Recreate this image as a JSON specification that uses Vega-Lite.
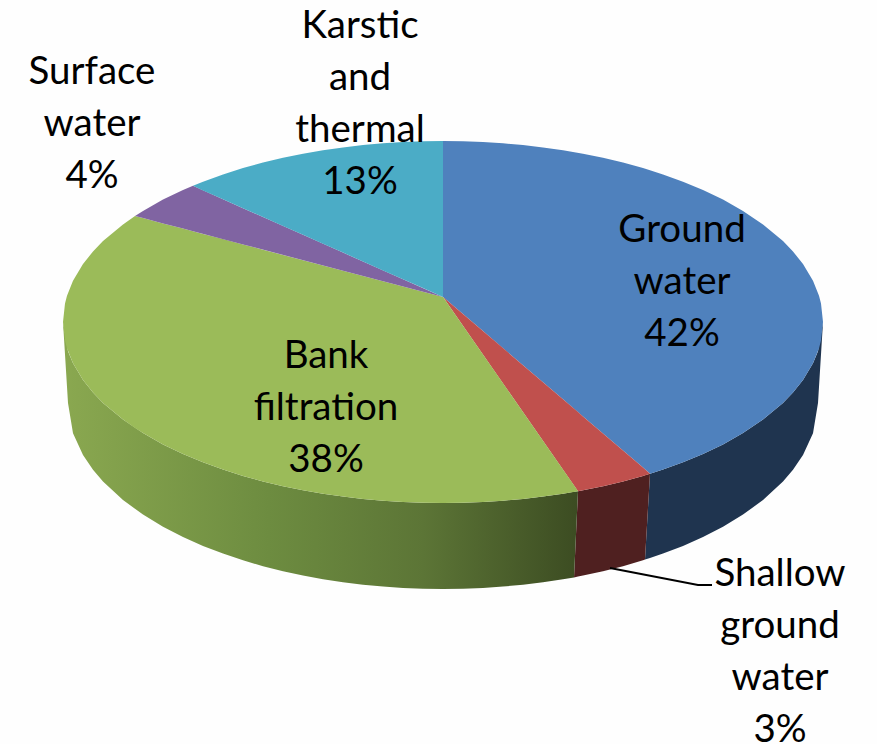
{"$schema":"https://vega.github.io/schema/vega-lite/v6.json","width":877,"height":744,"padding":0,"autosize":{"type":"none"},"background":"#fefefe","view":{"stroke":null},
"datasets":{"pie":[
{"s":"Ground water side","f":"side","x":645,"y":559.6,"y2":559.6},{"s":"Ground water side","f":"side","x":650,"y":473.8,"y2":558.1},{"s":"Ground water side","f":"side","x":663,"y":469.6,"y2":553.6},{"s":"Ground water side","f":"side","x":683,"y":462.3,"y2":545.9},{"s":"Ground water side","f":"side","x":703,"y":454,"y2":537},{"s":"Ground water side","f":"side","x":723,"y":444.4,"y2":526.7},{"s":"Ground water side","f":"side","x":743,"y":432.9,"y2":514.6},{"s":"Ground water side","f":"side","x":763,"y":419.6,"y2":500},{"s":"Ground water side","f":"side","x":783,"y":402.9,"y2":481.5},{"s":"Ground water side","f":"side","x":793,"y":392.5,"y2":469.8},{"s":"Ground water side","f":"side","x":803,"y":380,"y2":455.1},{"s":"Ground water side","f":"side","x":813,"y":363.3,"y2":433.3},{"s":"Ground water side","f":"side","x":818,"y":351.3,"y2":403},{"s":"Ground water side","f":"side","x":823,"y":322,"y2":322},
{"s":"Shallow side","f":"side","x":574,"y":577.5,"y2":577.5},{"s":"Shallow side","f":"side","x":578,"y":491.2,"y2":576.5},{"s":"Shallow side","f":"side","x":583,"y":490.3,"y2":575.6},{"s":"Shallow side","f":"side","x":603,"y":486.2,"y2":571.2},{"s":"Shallow side","f":"side","x":623,"y":481.4,"y2":566.2},{"s":"Shallow side","f":"side","x":643,"y":475.9,"y2":560.3},{"s":"Shallow side","f":"side","x":645,"y":475.3,"y2":559.6},{"s":"Shallow side","f":"side","x":650,"y":473.8,"y2":473.8},
{"s":"Bank side","f":"bank","x":63,"y":322,"y2":322},{"s":"Bank side","f":"bank","x":68,"y":351.3,"y2":403},{"s":"Bank side","f":"bank","x":73,"y":363.3,"y2":433.3},{"s":"Bank side","f":"bank","x":83,"y":380,"y2":455.1},{"s":"Bank side","f":"bank","x":93,"y":392.5,"y2":469.8},{"s":"Bank side","f":"bank","x":103,"y":402.9,"y2":481.5},{"s":"Bank side","f":"bank","x":123,"y":419.6,"y2":500},{"s":"Bank side","f":"bank","x":143,"y":432.9,"y2":514.6},{"s":"Bank side","f":"bank","x":163,"y":444.4,"y2":526.7},{"s":"Bank side","f":"bank","x":183,"y":454,"y2":537},{"s":"Bank side","f":"bank","x":203,"y":462.3,"y2":545.9},{"s":"Bank side","f":"bank","x":223,"y":469.6,"y2":553.6},{"s":"Bank side","f":"bank","x":243,"y":475.9,"y2":560.3},{"s":"Bank side","f":"bank","x":263,"y":481.4,"y2":566.2},{"s":"Bank side","f":"bank","x":283,"y":486.2,"y2":571.2},{"s":"Bank side","f":"bank","x":303,"y":490.3,"y2":575.6},{"s":"Bank side","f":"bank","x":323,"y":493.7,"y2":579.2},{"s":"Bank side","f":"bank","x":343,"y":496.6,"y2":582.3},{"s":"Bank side","f":"bank","x":363,"y":498.9,"y2":584.7},{"s":"Bank side","f":"bank","x":383,"y":500.7,"y2":586.6},{"s":"Bank side","f":"bank","x":403,"y":502,"y2":587.9},{"s":"Bank side","f":"bank","x":423,"y":502.7,"y2":588.7},{"s":"Bank side","f":"bank","x":443,"y":503,"y2":589},{"s":"Bank side","f":"bank","x":463,"y":502.7,"y2":588.7},{"s":"Bank side","f":"bank","x":483,"y":502,"y2":587.9},{"s":"Bank side","f":"bank","x":503,"y":500.7,"y2":586.6},{"s":"Bank side","f":"bank","x":523,"y":498.9,"y2":584.7},{"s":"Bank side","f":"bank","x":543,"y":496.6,"y2":582.3},{"s":"Bank side","f":"bank","x":563,"y":493.7,"y2":579.2},{"s":"Bank side","f":"bank","x":574,"y":491.8,"y2":577.5},{"s":"Bank side","f":"bank","x":578,"y":491.2,"y2":491.2},
{"s":"Ground water","f":"top","x":443,"y":141,"y2":297},{"s":"Ground water","f":"top","x":463,"y":141.3,"y2":314.1},{"s":"Ground water","f":"top","x":483,"y":142,"y2":331.1},{"s":"Ground water","f":"top","x":503,"y":143.3,"y2":348.2},{"s":"Ground water","f":"top","x":523,"y":145.1,"y2":365.2},{"s":"Ground water","f":"top","x":543,"y":147.4,"y2":382.3},{"s":"Ground water","f":"top","x":563,"y":150.3,"y2":399.3},{"s":"Ground water","f":"top","x":583,"y":153.7,"y2":416.4},{"s":"Ground water","f":"top","x":603,"y":157.8,"y2":433.4},{"s":"Ground water","f":"top","x":623,"y":162.6,"y2":450.5},{"s":"Ground water","f":"top","x":643,"y":168.1,"y2":467.5},{"s":"Ground water","f":"top","x":650,"y":170.2,"y2":473.8},{"s":"Ground water","f":"top","x":663,"y":174.4,"y2":469.6},{"s":"Ground water","f":"top","x":683,"y":181.7,"y2":462.3},{"s":"Ground water","f":"top","x":703,"y":190,"y2":454},{"s":"Ground water","f":"top","x":723,"y":199.6,"y2":444.4},{"s":"Ground water","f":"top","x":743,"y":210.9,"y2":432.9},{"s":"Ground water","f":"top","x":763,"y":224.4,"y2":419.6},{"s":"Ground water","f":"top","x":783,"y":241.1,"y2":402.9},{"s":"Ground water","f":"top","x":793,"y":251.5,"y2":392.5},{"s":"Ground water","f":"top","x":803,"y":264,"y2":380},{"s":"Ground water","f":"top","x":813,"y":280.7,"y2":363.3},{"s":"Ground water","f":"top","x":819,"y":295.8,"y2":348.2},{"s":"Ground water","f":"top","x":821,"y":303.4,"y2":340.6},{"s":"Ground water","f":"top","x":823,"y":322,"y2":322},
{"s":"Shallow ground water","f":"top","x":443,"y":297,"y2":297},{"s":"Shallow ground water","f":"top","x":578,"y":412.1,"y2":491.2},{"s":"Shallow ground water","f":"top","x":583,"y":416.4,"y2":490.3},{"s":"Shallow ground water","f":"top","x":603,"y":433.4,"y2":486.2},{"s":"Shallow ground water","f":"top","x":623,"y":450.5,"y2":481.4},{"s":"Shallow ground water","f":"top","x":643,"y":467.5,"y2":475.9},{"s":"Shallow ground water","f":"top","x":650,"y":473.8,"y2":473.8},
{"s":"Bank filtration","f":"top","x":63,"y":322,"y2":322},{"s":"Bank filtration","f":"top","x":65,"y":303.4,"y2":340.6},{"s":"Bank filtration","f":"top","x":67,"y":295.8,"y2":348.2},{"s":"Bank filtration","f":"top","x":73,"y":280.7,"y2":363.3},{"s":"Bank filtration","f":"top","x":83,"y":264,"y2":380},{"s":"Bank filtration","f":"top","x":93,"y":251.5,"y2":392.5},{"s":"Bank filtration","f":"top","x":103,"y":241.1,"y2":402.9},{"s":"Bank filtration","f":"top","x":123,"y":224.4,"y2":419.6},{"s":"Bank filtration","f":"top","x":135,"y":216,"y2":428},{"s":"Bank filtration","f":"top","x":143,"y":218.1,"y2":432.9},{"s":"Bank filtration","f":"top","x":163,"y":223.4,"y2":444.4},{"s":"Bank filtration","f":"top","x":183,"y":228.6,"y2":454},{"s":"Bank filtration","f":"top","x":203,"y":233.9,"y2":462.3},{"s":"Bank filtration","f":"top","x":223,"y":239.1,"y2":469.6},{"s":"Bank filtration","f":"top","x":243,"y":244.4,"y2":475.9},{"s":"Bank filtration","f":"top","x":263,"y":249.7,"y2":481.4},{"s":"Bank filtration","f":"top","x":283,"y":254.9,"y2":486.2},{"s":"Bank filtration","f":"top","x":303,"y":260.2,"y2":490.3},{"s":"Bank filtration","f":"top","x":323,"y":265.4,"y2":493.7},{"s":"Bank filtration","f":"top","x":343,"y":270.7,"y2":496.6},{"s":"Bank filtration","f":"top","x":363,"y":276,"y2":498.9},{"s":"Bank filtration","f":"top","x":383,"y":281.2,"y2":500.7},{"s":"Bank filtration","f":"top","x":403,"y":286.5,"y2":502},{"s":"Bank filtration","f":"top","x":423,"y":291.7,"y2":502.7},{"s":"Bank filtration","f":"top","x":443,"y":297,"y2":503},{"s":"Bank filtration","f":"top","x":463,"y":325.7,"y2":502.7},{"s":"Bank filtration","f":"top","x":483,"y":354.5,"y2":502},{"s":"Bank filtration","f":"top","x":503,"y":383.2,"y2":500.7},{"s":"Bank filtration","f":"top","x":523,"y":412,"y2":498.9},{"s":"Bank filtration","f":"top","x":543,"y":440.7,"y2":496.6},{"s":"Bank filtration","f":"top","x":563,"y":469.4,"y2":493.7},{"s":"Bank filtration","f":"top","x":578,"y":491,"y2":491.2},
{"s":"Surface water","f":"top","x":135,"y":216,"y2":216},{"s":"Surface water","f":"top","x":143,"y":210.9,"y2":218.1},{"s":"Surface water","f":"top","x":163,"y":199.6,"y2":223.4},{"s":"Surface water","f":"top","x":183,"y":190,"y2":228.6},{"s":"Surface water","f":"top","x":193,"y":185.7,"y2":231.2},{"s":"Surface water","f":"top","x":243,"y":208.2,"y2":244.4},{"s":"Surface water","f":"top","x":343,"y":252.6,"y2":270.7},{"s":"Surface water","f":"top","x":443,"y":297,"y2":297},
{"s":"Karstic and thermal","f":"top","x":193,"y":185.7,"y2":185.7},{"s":"Karstic and thermal","f":"top","x":203,"y":181.7,"y2":190.4},{"s":"Karstic and thermal","f":"top","x":223,"y":174.4,"y2":199.3},{"s":"Karstic and thermal","f":"top","x":243,"y":168.1,"y2":208.2},{"s":"Karstic and thermal","f":"top","x":263,"y":162.6,"y2":217.1},{"s":"Karstic and thermal","f":"top","x":283,"y":157.8,"y2":226},{"s":"Karstic and thermal","f":"top","x":303,"y":153.7,"y2":234.8},{"s":"Karstic and thermal","f":"top","x":323,"y":150.3,"y2":243.7},{"s":"Karstic and thermal","f":"top","x":343,"y":147.4,"y2":252.6},{"s":"Karstic and thermal","f":"top","x":363,"y":145.1,"y2":261.5},{"s":"Karstic and thermal","f":"top","x":383,"y":143.3,"y2":270.4},{"s":"Karstic and thermal","f":"top","x":403,"y":142,"y2":279.2},{"s":"Karstic and thermal","f":"top","x":423,"y":141.3,"y2":288.1},{"s":"Karstic and thermal","f":"top","x":443,"y":141,"y2":297}
],
"leader":[{"x":610,"y":568},{"x":698,"y":585},{"x":712,"y":585}],
"labels":[
{"t":"Ground\nwater\n42%","x":682,"y":230},
{"t":"Bank\nfiltration\n38%","x":326,"y":356},
{"t":"Surface\nwater\n4%","x":92,"y":72},
{"t":"Karstic\nand\nthermal\n13%","x":360,"y":26},
{"t":"Shallow\nground\nwater\n3%","x":780,"y":574}
]},
"encoding":{"x":{"field":"x","type":"quantitative","scale":{"domain":[0,877],"nice":false,"zero":false},"axis":null},"y":{"field":"y","type":"quantitative","scale":{"domain":[744,0],"nice":false,"zero":false},"axis":null}},
"layer":[
{"data":{"name":"pie"},"transform":[{"filter":"datum.f==='side'"}],"mark":{"type":"area","interpolate":"linear"},"encoding":{"y2":{"field":"y2"},"color":{"field":"s","type":"nominal","legend":null,"scale":{"domain":["Ground water side","Shallow side"],"range":["#1f344f","#4f2020"]}}}},
{"data":{"name":"pie"},"transform":[{"filter":"datum.f==='bank'"}],"mark":{"type":"area","interpolate":"linear","color":{"gradient":"linear","x1":0,"y1":0,"x2":1,"y2":0,"stops":[{"offset":0,"color":"#8aa850"},{"offset":0.4,"color":"#6d8c40"},{"offset":0.7,"color":"#5c7536"},{"offset":1,"color":"#3c4c22"}]}},"encoding":{"y2":{"field":"y2"}}},
{"data":{"name":"pie"},"transform":[{"filter":"datum.f==='top'"}],"mark":{"type":"area","interpolate":"linear"},"encoding":{"y2":{"field":"y2"},"color":{"field":"s","type":"nominal","legend":null,"scale":{"domain":["Ground water","Shallow ground water","Bank filtration","Surface water","Karstic and thermal"],"range":["#4f81bd","#c0504d","#9bbb59","#8064a2","#4bacc6"]}}}},
{"data":{"name":"leader"},"mark":{"type":"line","color":"#000000","strokeWidth":1.8},"encoding":{}},
{"data":{"name":"labels"},"mark":{"type":"text","font":"Lato","fontSize":38.5,"lineBreak":"\n","lineHeight":52,"align":"center","baseline":"middle","color":"#000000"},"encoding":{"text":{"field":"t"}}}
],"resolve":{"scale":{"color":"independent"}}}
